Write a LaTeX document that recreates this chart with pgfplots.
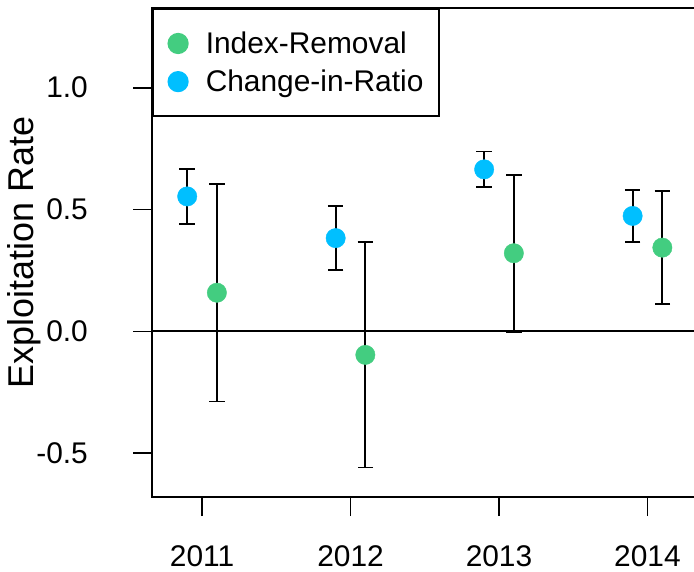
\documentclass[border=0pt]{standalone}
\usepackage{fontspec}
\setmainfont{Liberation Sans}
\usepackage{pgfplots}
\pgfplotsset{compat=1.18}

\definecolor{irgreen}{HTML}{43CD80}
\definecolor{cirblue}{HTML}{00BFFF}

\begin{document}
\begin{tikzpicture}
\begin{axis}[
  at={(0,0)}, anchor=south west,
  scale only axis,
  width=547bp, height=489bp,
  xmin=2010.663, xmax=2014.347,
  ymin=-0.679, ymax=1.327,
  axis line style={line width=1.8bp},
  xtick={2011,2012,2013,2014},
  xticklabels={2011,2012,2013,2014},
  ytick={-0.5,0,0.5,1},
  yticklabels={-0.5,0.0,0.5,1.0},
  xtick pos=lower, ytick pos=left,
  tick align=outside,
  major tick length=19bp,
  tick style={black, line width=1.8bp},
  ticklabel style={font=\fontsize{30}{36}\selectfont},
  yticklabel style={anchor=east, inner sep=0pt, xshift=-45bp},
  xticklabel style={anchor=north, inner sep=0pt, yshift=-29bp},
  ylabel={Exploitation Rate},
  every axis y label/.style={at={(axis description cs:0,0.5)}, xshift=-128bp,
    rotate=90, anchor=center, inner sep=0pt, font=\fontsize{36}{42}\selectfont},
  legend style={at={(rel axis cs:0,1)}, anchor=north west, draw=black,
    line width=1.8bp, fill=white, font=\fontsize{30}{36}\selectfont,
    inner xsep=15.5bp, inner ysep=23bp, row sep=15bp,
    nodes={inner sep=0pt},
    /tikz/every odd column/.append style={column sep=18bp}},
  legend cell align=left,
  legend image code/.code={\draw[#1] plot coordinates {(0bp,0bp)};},
  clip=false,
]

% zero line
\addplot[black, line width=2bp, forget plot] coordinates {(2010.663,0) (2014.347,0)};

% points
\addplot[only marks, mark=*, mark size=9.7bp, color=irgreen, mark options={draw=none, fill=irgreen}]
coordinates {(2011.1,0.159) (2012.1,-0.096) (2013.1,0.321) (2014.1,0.344)};
\addlegendentry{Index-Removal}

\addplot[only marks, mark=*, mark size=9.7bp, color=cirblue, mark options={draw=none, fill=cirblue}]
coordinates {(2010.9,0.554) (2011.9,0.383) (2012.9,0.665) (2013.9,0.474)};
\addlegendentry{Change-in-Ratio}

% error bars on top
\addplot[draw=none, mark=none, forget plot,
  error bars/.cd, y dir=both, y explicit,
  error bar style={draw=black, line width=1.8bp},
  error mark options={rotate=90, mark size=7.8bp, line width=1.8bp, black}]
coordinates {
  (2011.1,0.159) +- (0,0.446)
  (2012.1,-0.096) +- (0,0.462)
  (2013.1,0.321) +- (0,0.322)
  (2014.1,0.344) +- (0,0.231)
};

\addplot[draw=none, mark=none, forget plot,
  error bars/.cd, y dir=both, y explicit,
  error bar style={draw=black, line width=1.8bp},
  error mark options={rotate=90, mark size=7.8bp, line width=1.8bp, black}]
coordinates {
  (2010.9,0.554) +- (0,0.112)
  (2011.9,0.383) +- (0,0.131)
  (2012.9,0.665) +- (0,0.073)
  (2013.9,0.474) +- (0,0.106)
};

\end{axis}
\pgfresetboundingbox
\path (-152bp,-75bp) rectangle (542bp,497bp);
\end{tikzpicture}
\end{document}
